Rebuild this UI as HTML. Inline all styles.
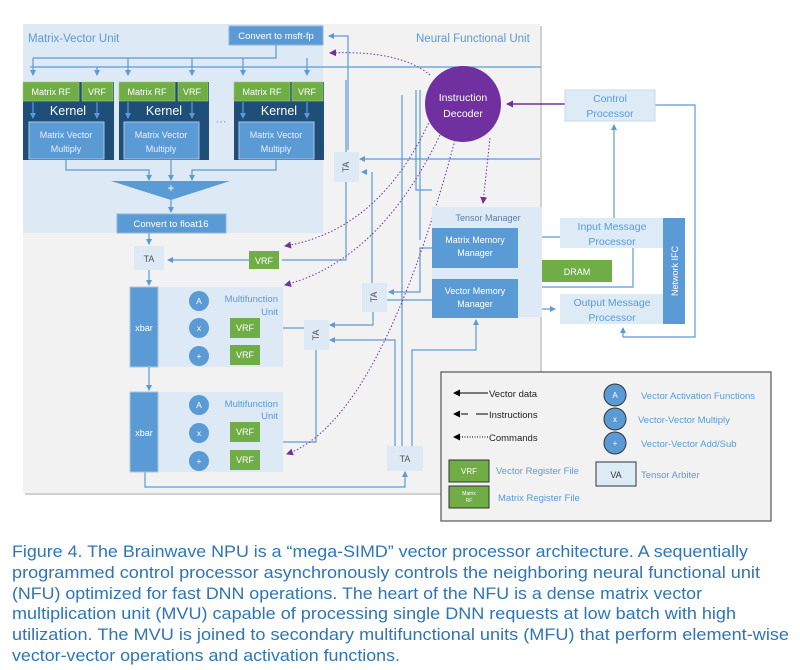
<!DOCTYPE html>
<html><head><meta charset="utf-8"><style>
html,body{margin:0;padding:0;background:#fff;width:800px;height:670px;overflow:hidden}
svg{display:block;font-family:"Liberation Sans",sans-serif}
</style></head><body>
<svg width="800" height="670" viewBox="0 0 800 670" xmlns="http://www.w3.org/2000/svg">
<defs>
<marker id="a" markerWidth="6" markerHeight="6" refX="5" refY="3" orient="auto" markerUnits="userSpaceOnUse"><path d="M0,0 L6,3 L0,6z" fill="#5b9bd5"/></marker>
<marker id="p" markerWidth="7" markerHeight="7" refX="6" refY="3.5" orient="auto" markerUnits="userSpaceOnUse"><path d="M0,0 L7,3.5 L0,7z" fill="#7030a0"/></marker>
<marker id="k" markerWidth="7" markerHeight="7" refX="6" refY="3.5" orient="auto" markerUnits="userSpaceOnUse"><path d="M0,0 L7,3.5 L0,7z" fill="#000"/></marker>
</defs>
<rect x="25" y="26" width="517" height="469" fill="#d0d0d0"/>
<rect x="23" y="24" width="517" height="469" fill="#f2f2f2"/>
<rect x="23" y="24" width="300" height="209" fill="#dde9f5"/>
<text x="28" y="42" font-size="11.5" fill="#5b9bd5">Matrix-Vector Unit</text>
<text x="416" y="42" font-size="11.5" fill="#5b9bd5">Neural Functional Unit</text>
<rect x="229" y="26" width="94" height="19" fill="#5b9bd5" stroke="#8fb4dc"/>
<text x="276" y="39" font-size="9.5" fill="#fff" text-anchor="middle">Convert to msft-fp</text>
<g stroke="#5b9bd5" stroke-width="1.2" fill="none">
<path d="M276,45 V58 H33"/>
<path d="M33,58 V75" marker-end="url(#a)"/>
<path d="M97,67 V75" marker-end="url(#a)"/>
<path d="M30,67 H541"/>
<path d="M128,58 V75" marker-end="url(#a)"/>
<path d="M192,58 V75" marker-end="url(#a)"/>
<path d="M243,58 V75" marker-end="url(#a)"/>
<path d="M307,58 V75" marker-end="url(#a)"/>
<path d="M348,150 V36 H329" marker-end="url(#a)"/>
<path d="M66,160 V170 H149 V180" marker-end="url(#a)"/>
<path d="M171,160 V180" marker-end="url(#a)"/>
<path d="M276,160 V170 H192 V180" marker-end="url(#a)"/>
<path d="M171,200 V212" marker-end="url(#a)"/>
<path d="M149,233 V244" marker-end="url(#a)"/>
<path d="M249,260 H168" marker-end="url(#a)"/>
<path d="M346,80 V260 H282" />
<path d="M149,270 V285" marker-end="url(#a)"/>
<path d="M149,367 V390" marker-end="url(#a)"/>
<path d="M145,472 V487 H405 V472" marker-end="url(#a)"/>
<path d="M540,159 H360" marker-end="url(#a)"/>
<path d="M372,172 V285" />
<path d="M367,172 H362" marker-end="url(#a)"/>
<path d="M432,248 H420 V292 H389" marker-end="url(#a)"/>
<path d="M373,312 V325 H330" marker-end="url(#a)"/>
<path d="M395,446 V340 H330" marker-end="url(#a)"/>
<path d="M402,446 V95"/>
<path d="M412,446 V350 H476 V320" marker-end="url(#a)"/>
<path d="M416,90 V190 H432"/>
<path d="M420,90 V240"/>
<path d="M432,300 H386"/>
<path d="M304,328 H264" marker-end="url(#a)"/><path d="M272,328 V356 H264" marker-end="url(#a)"/>
<path d="M316,350 V442 H272 V432 H264" marker-end="url(#a)"/><path d="M272,442 V460 H264" marker-end="url(#a)"/>
<path d="M230,328 H211" marker-end="url(#a)"/><path d="M230,356 H211" marker-end="url(#a)"/>
<path d="M230,433 H211" marker-end="url(#a)"/><path d="M230,461 H211" marker-end="url(#a)"/>
<path d="M158,293 H187" marker-end="url(#a)"/><path d="M189,306 H160" marker-end="url(#a)"/>
<path d="M158,320 H187" marker-end="url(#a)"/><path d="M189,334 H160" marker-end="url(#a)"/>
<path d="M158,348 H187" marker-end="url(#a)"/><path d="M189,362 H160" marker-end="url(#a)"/>
<path d="M158,398 H187" marker-end="url(#a)"/><path d="M189,411 H160" marker-end="url(#a)"/>
<path d="M158,425 H187" marker-end="url(#a)"/><path d="M189,439 H160" marker-end="url(#a)"/>
<path d="M158,453 H187" marker-end="url(#a)"/><path d="M189,467 H160" marker-end="url(#a)"/>
<path d="M560,237 H522" marker-end="url(#a)"/>
<path d="M530,248 H522" marker-end="url(#a)"/>
<path d="M530,247 V291 H522" marker-end="url(#a)"/>
<path d="M530,270 H540" marker-end="url(#a)"/>
<path d="M633,248 V287 H530 M530,296 H522" marker-end="url(#a)"/>
<path d="M518,309 H555" marker-end="url(#a)"/>
<path d="M614,218 V125" marker-end="url(#a)"/>
<path d="M655,105 H695 V337 H623 V328" marker-end="url(#a)"/>
</g>
<path d="M565,104 H507" stroke="#7030a0" stroke-width="1.5" marker-end="url(#p)"/>
<g stroke="#7030a0" stroke-width="1" stroke-dasharray="1.5,2" fill="none">
<path d="M430,75 Q400,50 330,53" marker-end="url(#p)"/>
<path d="M430,120 Q380,230 285,246" marker-end="url(#p)"/>
<path d="M440,135 Q380,260 285,285" marker-end="url(#p)"/>
<path d="M455,140 Q380,420 287,454" marker-end="url(#p)"/>
<path d="M490,138 L483,203" marker-end="url(#p)"/>
</g>
<g>
<rect x="23" y="82" width="91" height="78" fill="#1f4e79"/>
<rect x="119" y="82" width="90" height="78" fill="#1f4e79"/>
<rect x="234" y="82" width="90" height="78" fill="#1f4e79"/>
<g fill="#70ad47" stroke="#9fcc7d" stroke-width="0.6">
<rect x="23" y="82" width="56" height="19"/><rect x="82" y="82" width="31" height="19"/>
<rect x="119" y="82" width="56" height="19"/><rect x="178" y="82" width="30" height="19"/>
<rect x="234" y="82" width="56" height="19"/><rect x="292" y="82" width="31" height="19"/>
</g>
<g font-size="9" fill="#fff" text-anchor="middle">
<text x="51" y="95">Matrix RF</text><text x="97" y="95">VRF</text>
<text x="147" y="95">Matrix RF</text><text x="192" y="95">VRF</text>
<text x="262" y="95">Matrix RF</text><text x="307" y="95">VRF</text>
</g>
<g font-size="12.5" fill="#fff" text-anchor="middle">
<text x="68" y="115">Kernel</text><text x="164" y="115">Kernel</text><text x="279" y="115">Kernel</text>
</g>
<g fill="#5b9bd5" stroke="#a9c4e0">
<rect x="29" y="122" width="75" height="37"/><rect x="124" y="122" width="75" height="37"/><rect x="239" y="122" width="75" height="37"/>
</g>
<g font-size="9" fill="#eef" text-anchor="middle">
<text x="66" y="138">Matrix Vector</text><text x="66" y="152">Multiply</text>
<text x="161" y="138">Matrix Vector</text><text x="161" y="152">Multiply</text>
<text x="276" y="138">Matrix Vector</text><text x="276" y="152">Multiply</text>
</g>
<g stroke="#5b9bd5" stroke-width="1.2">
<path d="M33,102 V118" marker-end="url(#a)"/><path d="M97,102 V118" marker-end="url(#a)"/>
<path d="M128,102 V118" marker-end="url(#a)"/><path d="M192,102 V118" marker-end="url(#a)"/>
<path d="M243,102 V118" marker-end="url(#a)"/><path d="M307,102 V118" marker-end="url(#a)"/>
</g>
<text x="221" y="125" font-size="11" fill="#5b9bd5" text-anchor="middle">···</text>
</g>
<path d="M111,181 H230 L171,200z" fill="#5b9bd5"/>
<text x="171" y="192" font-size="12" fill="#fff" text-anchor="middle">+</text>
<rect x="117" y="214" width="109" height="19" fill="#5b9bd5" stroke="#8fb4dc"/>
<text x="171" y="227" font-size="9.5" fill="#fff" text-anchor="middle">Convert to float16</text>
<g fill="#dde9f5">
<rect x="134" y="246" width="30" height="24"/>
<rect x="334" y="152" width="25" height="30"/>
<rect x="362" y="283" width="25" height="29"/>
<rect x="304" y="320" width="25" height="30"/>
<rect x="387" y="446" width="36" height="25"/>
</g>
<g font-size="9" fill="#555" text-anchor="middle">
<text x="149" y="262">TA</text><text x="405" y="462">TA</text>
<text transform="translate(349,167) rotate(-90)" y="0">TA</text>
<text transform="translate(377,297) rotate(-90)">TA</text>
<text transform="translate(319,335) rotate(-90)">TA</text>
</g>
<rect x="249" y="251" width="30" height="18" fill="#70ad47"/>
<text x="264" y="264" font-size="9" fill="#fff" text-anchor="middle">VRF</text>
<g>
<rect x="158" y="287" width="125" height="80" fill="#dde9f5"/>
<rect x="158" y="392" width="125" height="80" fill="#dde9f5"/>
<rect x="130" y="287" width="28" height="80" fill="#5b9bd5" stroke="#a9c4e0"/>
<rect x="130" y="392" width="28" height="80" fill="#5b9bd5" stroke="#a9c4e0"/>
<text x="144" y="331" font-size="9" fill="#fff" text-anchor="middle">xbar</text>
<text x="144" y="436" font-size="9" fill="#fff" text-anchor="middle">xbar</text>
<g font-size="9.5" fill="#5b9bd5" text-anchor="end"><text x="278" y="302">Multifunction</text><text x="278" y="315">Unit</text><text x="278" y="407">Multifunction</text><text x="278" y="419">Unit</text></g>
<g fill="#5b9bd5"><circle cx="199" cy="301" r="10"/><circle cx="199" cy="328" r="10"/><circle cx="199" cy="356" r="10"/><circle cx="199" cy="405" r="10"/><circle cx="199" cy="433" r="10"/><circle cx="199" cy="461" r="10"/></g>
<g font-size="8.5" fill="#fff" text-anchor="middle"><text x="199" y="304">A</text><text x="199" y="331">x</text><text x="199" y="359">+</text><text x="199" y="408">A</text><text x="199" y="436">x</text><text x="199" y="464">+</text></g>
<g fill="#70ad47"><rect x="230" y="318" width="30" height="20"/><rect x="230" y="345" width="30" height="20"/><rect x="230" y="422" width="30" height="20"/><rect x="230" y="450" width="30" height="20"/></g>
<g font-size="9" fill="#fff" text-anchor="middle"><text x="245" y="331">VRF</text><text x="245" y="358">VRF</text><text x="245" y="435">VRF</text><text x="245" y="463">VRF</text></g>
</g>
<circle cx="463" cy="104" r="38" fill="#7030a0"/>
<text x="463" y="101" font-size="10.5" fill="#fff" text-anchor="middle">Instruction</text>
<text x="463" y="117" font-size="10.5" fill="#fff" text-anchor="middle">Decoder</text>
<rect x="432" y="207" width="110" height="110" fill="#dde9f5"/>
<text x="488" y="221" font-size="9" fill="#5b7fa8" text-anchor="middle">Tensor Manager</text>
<rect x="432" y="228" width="86" height="40" fill="#5b9bd5"/>
<rect x="432" y="279" width="86" height="39" fill="#5b9bd5"/>
<g font-size="9" fill="#fff" text-anchor="middle"><text x="475" y="243">Matrix Memory</text><text x="475" y="256">Manager</text><text x="475" y="294">Vector Memory</text><text x="475" y="307">Manager</text></g>
<rect x="542" y="260" width="70" height="22" fill="#70ad47"/>
<text x="577" y="275" font-size="9" fill="#fff" text-anchor="middle">DRAM</text>
<rect x="565" y="90" width="90" height="31" fill="#ddebf7" stroke="#c8d8ea"/>
<text x="610" y="102" font-size="10.5" fill="#5b9bd5" text-anchor="middle">Control</text>
<text x="610" y="117" font-size="10.5" fill="#5b9bd5" text-anchor="middle">Processor</text>
<rect x="560" y="218" width="104" height="30" fill="#ddebf7"/>
<text x="612" y="230" font-size="10.5" fill="#5b9bd5" text-anchor="middle">Input Message</text>
<text x="612" y="245" font-size="10.5" fill="#5b9bd5" text-anchor="middle">Processor</text>
<rect x="560" y="294" width="104" height="30" fill="#ddebf7"/>
<text x="612" y="306" font-size="10.5" fill="#5b9bd5" text-anchor="middle">Output Message</text>
<text x="612" y="321" font-size="10.5" fill="#5b9bd5" text-anchor="middle">Processor</text>
<rect x="663" y="218" width="22" height="106" fill="#5b9bd5"/>
<text transform="translate(678,271) rotate(-90)" font-size="9" fill="#fff" text-anchor="middle">Network IFC</text>
<rect x="441" y="372" width="330" height="149" fill="#f2f2f2" stroke="#555" stroke-width="1.2"/>
<path d="M488,393 H454" stroke="#000" marker-end="url(#k)"/>
<path d="M476,414 H488 M468,414 H461" stroke="#000"/>
<path d="M459,414 H454" stroke="#000" marker-end="url(#k)"/>
<path d="M488,437 H454" stroke="#000" stroke-dasharray="1,1.5" marker-end="url(#k)"/>
<g font-size="9.5" fill="#222"><text x="489" y="397">Vector data</text><text x="489" y="418">Instructions</text><text x="489" y="441">Commands</text></g>
<rect x="449" y="460" width="40" height="22" fill="#70ad47" stroke="#333"/>
<text x="469" y="474" font-size="8" fill="#fff" text-anchor="middle">VRF</text>
<rect x="449" y="486" width="40" height="22" fill="#70ad47" stroke="#333"/>
<text x="469" y="495" font-size="5" fill="#fff" text-anchor="middle">Matrix</text><text x="469" y="502" font-size="5" fill="#fff" text-anchor="middle">RF</text>
<g fill="#5b9bd5" stroke="#333"><circle cx="615" cy="395" r="11"/><circle cx="615" cy="419" r="11"/><circle cx="615" cy="443" r="11"/></g>
<g font-size="8" fill="#fff" text-anchor="middle"><text x="615" y="398">A</text><text x="615" y="422">x</text><text x="615" y="446">+</text></g>
<rect x="596" y="462" width="40" height="24" fill="#ddebf7" stroke="#333"/>
<text x="616" y="478" font-size="9" fill="#333" text-anchor="middle">VA</text>
<g font-size="9.5" fill="#5b9bd5"><text x="641" y="399">Vector Activation Functions</text><text x="638" y="423">Vector-Vector Multiply</text><text x="641" y="447">Vector-Vector Add/Sub</text><text x="641" y="478">Tensor Arbiter</text><text x="496" y="474">Vector Register File</text><text x="498" y="501">Matrix Register File</text></g>
<g font-size="17" fill="#2e75b6">
<text x="12" y="557" textLength="736" lengthAdjust="spacingAndGlyphs">Figure 4. The Brainwave NPU is a “mega-SIMD” vector processor architecture. A sequentially</text>
<text x="12" y="578" textLength="748" lengthAdjust="spacingAndGlyphs">programmed control processor asynchronously controls the neighboring neural functional unit</text>
<text x="12" y="599" textLength="690" lengthAdjust="spacingAndGlyphs">(NFU) optimized for fast DNN operations. The heart of the NFU is a dense matrix vector</text>
<text x="12" y="619" textLength="724" lengthAdjust="spacingAndGlyphs">multiplication unit (MVU) capable of processing single DNN requests at low batch with high</text>
<text x="12" y="640" textLength="777" lengthAdjust="spacingAndGlyphs">utilization. The MVU is joined to secondary multifunctional units (MFU) that perform element-wise</text>
<text x="12" y="661" textLength="388" lengthAdjust="spacingAndGlyphs">vector-vector operations and activation functions.</text>
</g>
</svg>
</body></html>
